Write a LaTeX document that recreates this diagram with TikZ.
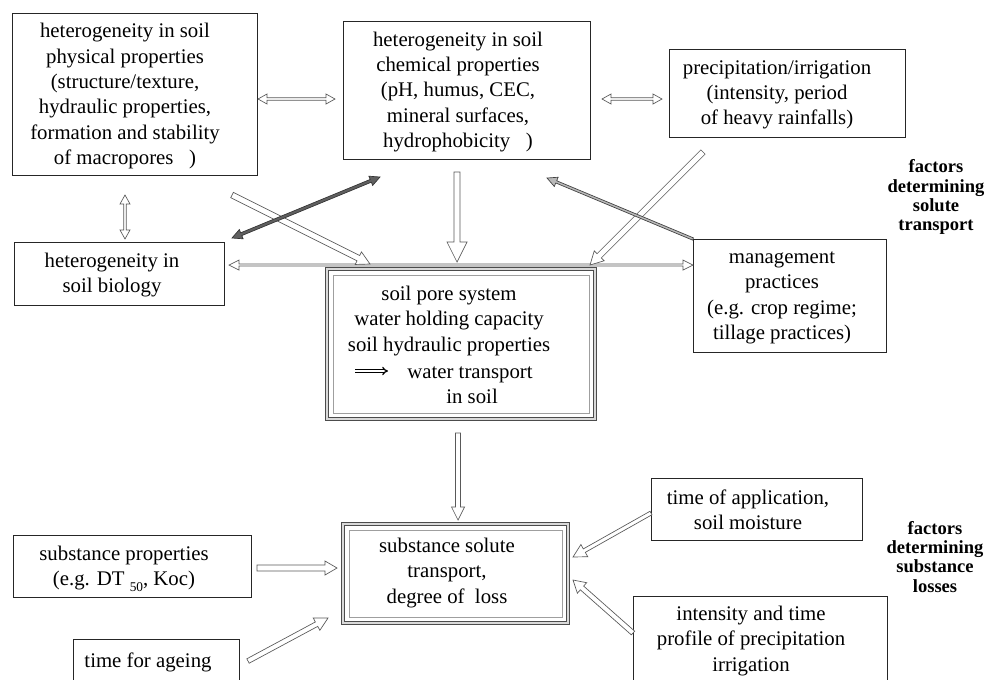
\documentclass[tikz,border=0pt]{standalone}
\usepackage{fontspec}
\setmainfont{Liberation Serif}
\usetikzlibrary{calc,fit,arrows.meta}
% single-headed block arrow: [opts]{tail}{tip}{half shaft}{half head}{head length}
\newcommand\sarrow[6][]{%
  \draw[harr,#1] ($(#2)!#4*0.75pt!90:(#3)$)
    -- ($(#3)!#6*0.75pt!(#2)!#4*0.75pt!90:(#3)$)
    -- ($(#3)!#6*0.75pt!(#2)!#5*0.75pt!90:(#3)$)
    -- (#3)
    -- ($(#3)!#6*0.75pt!(#2)!#5*0.75pt!-90:(#3)$)
    -- ($(#3)!#6*0.75pt!(#2)!#4*0.75pt!-90:(#3)$)
    -- ($(#2)!#4*0.75pt!-90:(#3)$) -- cycle;}
% double-headed block arrow
\newcommand\darrow[6][]{%
  \draw[harr,#1] (#2)
    -- ($(#2)!#6*0.75pt!(#3)!#5*0.75pt!90:(#3)$)
    -- ($(#2)!#6*0.75pt!(#3)!#4*0.75pt!90:(#3)$)
    -- ($(#3)!#6*0.75pt!(#2)!#4*0.75pt!90:(#3)$)
    -- ($(#3)!#6*0.75pt!(#2)!#5*0.75pt!90:(#3)$)
    -- (#3)
    -- ($(#3)!#6*0.75pt!(#2)!#5*0.75pt!-90:(#3)$)
    -- ($(#3)!#6*0.75pt!(#2)!#4*0.75pt!-90:(#3)$)
    -- ($(#2)!#6*0.75pt!(#3)!#4*0.75pt!-90:(#3)$)
    -- ($(#2)!#6*0.75pt!(#3)!#5*0.75pt!-90:(#3)$) -- cycle;}
\begin{document}
\begin{tikzpicture}[x=0.75pt,y=-0.75pt,
  box/.style={draw=black!85, line width=0.75pt, inner sep=0pt, outer sep=0pt},
  dbox/.style={draw=gray!60!black, double=gray!30, double distance=1.3pt, line width=0.5pt, inner sep=0pt, outer sep=0pt},
  inbox/.style={draw=gray!75, line width=0.6pt},
  txt/.style={align=center, font=\fontsize{15.6pt}{19pt}\selectfont, inner sep=0pt},
  lab/.style={align=center, font=\fontsize{13.9pt}{14.3pt}\selectfont\bfseries, inner sep=0pt},
  harr/.style={draw=gray!70!black, fill=white, line width=0.5pt, line join=miter},
  dark/.style={fill=gray!55, draw=gray!50!black},
  darker/.style={fill=gray!75!black, draw=gray!40!black},
  implies/.style={double equal sign distance, line width=0.9pt, -{Implies}}]
\useasboundingbox (0,0) rectangle (985,679);
\fill[white] (0,0) rectangle (985,679);
\clip (0,0) rectangle (985,679);

% ---- boxes ----
\node[box, fit={(12,13) (257,175)}] (phys) {};
\node[txt] (physT) at (125,96) {heterogeneity in soil\\physical properties\\(structure/texture,\\hydraulic properties,\\formation and stability\\of macropores\ \ \ )};

\node[box, fit={(343,21) (590,159)}] (chem) {};
\node[txt] (chemT) at (458,92) {heterogeneity in soil\\chemical properties\\(pH, humus, CEC,\\mineral surfaces,\\hydrophobicity\ \ \ )};

\node[box, fit={(669,49) (905,137)}] (prec) {};
\node[txt] (precT) at (777,95) {precipitation/irrigation\\(intensity, period\\of heavy rainfalls)};

\node[box, fit={(14,242) (224,305)}] (bio) {};
\node[txt] (bioT) at (112,275) {heterogeneity in\\soil biology};

\node[box, fit={(693,239) (886,352)}] (mgmt) {};
\node[txt] (mgmtT) at (782,298) {management\\practices\\(e.g. crop regime;\\tillage practices)};

\node[dbox, fit={(327,269) (595,419)}] (cent) {};
\draw[inbox] ($(cent.north west)+(6,6)$) rectangle ($(cent.south east)+(-6,-6)$);
\node[txt] (centT) at (449,321) {soil pore system\\water holding capacity\\soil hydraulic properties};
\coordinate (ia) at (355,371); \coordinate (ib) at (388,371);
\draw[implies] (ia) -- (ib);
\node[txt] (centW) at (470,385) {water transport\\\hspace*{0.2em}in soil};

\node[dbox, fit={(343,524) (568,623)}] (subst) {};
\draw[inbox] ($(subst.north west)+(6,6)$) rectangle ($(subst.south east)+(-6,-6)$);
\node[txt] (substT) at (447,573) {substance solute\\transport,\\degree of\ \ loss};

\node[box, fit={(13,535) (251,597)}] (sprop) {};
\node[txt] (spropT) at (124,569) {substance properties\\(e.g. DT \raisebox{-0.6ex}{\fontsize{10pt}{12pt}\selectfont 50}, Koc)};

\node[box, fit={(73,639) (239,720)}] (age) {};
\node[txt] (ageT) at (148,662) {time for ageing};

\node[box, fit={(651,478) (862,540)}] (tapp) {};
\node[txt] (tappT) at (748,510) {time of application,\\soil moisture};

\node[box, fit={(633,596) (887,720)}] (inten) {};
\node[txt] (intenT) at (751,641) {intensity and time\\profile of precipitation\\irrigation};

\node[lab] (lab1) at (936,197) {factors\\determining\\solute\\transport};
\node[lab] (lab2) at (935,557) {factors\\determining\\substance\\losses};

% ---- connector end points ----
\coordinate (pc1) at (258,99);  \coordinate (pc2) at (335,99);
\coordinate (cp1) at (602,99);  \coordinate (cp2) at (662,99);
\coordinate (pb1) at (125,195); \coordinate (pb2) at (125,239);
\coordinate (bm1) at (229,265); \coordinate (bm2) at (693,265);
\coordinate (pt1) at (232,195); \coordinate (pt2) at (370,264);
\coordinate (ct1) at (457,172); \coordinate (ct2) at (457,262);
\coordinate (rt1) at (703,152); \coordinate (rt2) at (590,265);
\coordinate (bc1) at (232,238); \coordinate (bc2) at (380,177);
\coordinate (mc1) at (693,239); \coordinate (mc2) at (547,178);
\coordinate (cs1) at (458,433); \coordinate (cs2) at (458,520);
\coordinate (ss1) at (257,568); \coordinate (ss2) at (337,568);
\coordinate (as1) at (248,661); \coordinate (as2) at (328,618);
\coordinate (ts1) at (651,513); \coordinate (ts2) at (573,557);
\coordinate (is1) at (633,633); \coordinate (is2) at (573,580);

% ---- connectors ----
\darrow{bm1}{bm2}{1}{5}{10}
\sarrow{pt1}{pt2}{3}{7}{13}
\sarrow{ct1}{ct2}{3}{10}{20}
\sarrow{rt1}{rt2}{3}{7}{13}
\sarrow{cs1}{cs2}{2.5}{6.5}{13}
\sarrow{ss1}{ss2}{3}{7}{12}
\sarrow{as1}{as2}{2.5}{7}{13}
\sarrow{ts1}{ts2}{2}{7}{13}
\sarrow{is1}{is2}{2.5}{7}{12}
\sarrow[dark]{mc1}{mc2}{1.2}{5}{10}
\darrow[darker]{bc1}{bc2}{1.5}{5}{10}
\darrow{pc1}{pc2}{1.3}{5}{9}
\darrow{cp1}{cp2}{1.3}{5}{9}
\darrow{pb1}{pb2}{1.3}{5}{9}
\end{tikzpicture}
\end{document}
